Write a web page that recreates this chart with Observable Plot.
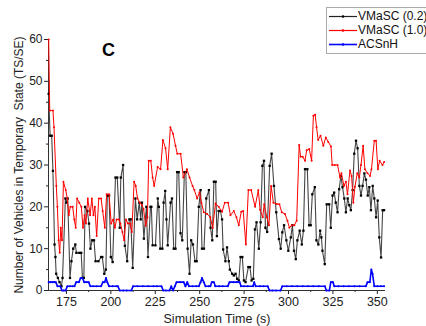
<!DOCTYPE html>
<html><head><meta charset="utf-8">
<script src="https://cdn.jsdelivr.net/npm/d3@7"></script>
<script src="https://cdn.jsdelivr.net/npm/@observablehq/plot@0.6"></script>
<style>
body{margin:0;background:#fff;font-family:"Liberation Sans",Arial,sans-serif;}
#wrap{position:relative;width:426px;height:326px;overflow:hidden;}
#legend{position:absolute;left:326px;top:7px;width:110px;height:45px;border:1px solid #aaa;background:#fff;font-size:12px;color:#111;}
.row{position:absolute;left:0;height:14px;line-height:14px;}
.sw{position:absolute;left:2px;top:0;}
.lab{position:absolute;left:31px;top:0;white-space:nowrap;}
#panel{position:absolute;left:102px;top:40px;font-weight:bold;font-size:18px;color:#000;}
</style></head><body>
<div id="wrap"></div>
<script>
const seriesNames = ["VMaSC (0.2)", "VMaSC (1.0)", "ACSnH"];
const seriesColors = ["#222222", "#ff0000", "#0000ff"];
const xTicks = [175, 200, 225, 250, 275, 300, 325, 350];
const xMinor = [187.5, 212.5, 237.5, 262.5, 287.5, 312.5, 337.5];
const yTicks = [0, 10, 20, 30, 40, 50, 60];
const yMinor = [5, 15, 25, 35, 45, 55];
const xDomain = [164.9, 354.6];
const yDomain = [0, 60];

const blackT = [165,165.8,166.7,167.4,168.3,168.8,169.2,170.2,171.1,172.2,172.8,174.4,175,175.7,177,177.8,178.8,180,180.6,182.3,183.3,184,184.8,185.5,186.8,187.7,188.5,189.5,190.5,191.4,193,194.5,195.2,196.3,197.2,198,199,200,201,202.6,203.6,205,205.6,206.9,207.9,209.2,210.4,211.2,212.3,213.8,214.8,216,216.8,217.5,218.6,220,220.9,222.3,222.8,223.5,225.1,226.4,227,227.8,229,229.7,230.6,231.3,232,233.6,234.4,235.4,236.4,237.3,238.2,239.2,240.2,241.4,242.2,243.2,244.3,245.2,246.2,247.4,248.3,249.5,250.5,251.3,252.4,253.7,255.2,256.1,257.1,258,259,259.7,260.7,261.7,262.6,263.2,264.5,265.4,266.4,267,268.3,269.2,270.2,271.1,272,273,274,274.9,275.8,277.4,278.3,279.2,280.2,281.1,282,283.3,284.3,285.3,286.2,287,288,289.4,290.5,291.8,293.1,294.6,295.6,296.5,297.5,298.8,299.9,301.3,302.2,303.1,304.1,305,306.3,307.5,308.4,309.3,310.6,311.6,312.5,313.4,314.8,315.7,316.8,317.8,318.5,319.1,320.4,321.5,322.9,323.8,324.8,325.7,326.6,327.6,328.5,329.5,330.4,331.4,332.3,333.3,334.2,335.1,336.1,337,338,338.9,339.9,340.8,341.7,342.7,343.6,344.6,345.5,346.4,347.4,348.3,349.3,350.2,351.1,352.1,353,353.8];
const blackV = [47,37,37,28.6,11,8,4,3,2,1,3,22,21,22,3,7,10,11,9,9,9,3,3,20,19,16,10,12,12,7,7,8,8,4,5,22.7,22.7,8,6.8,27,27,15,27,30,10.7,7,17,17,5.4,22,17,21,17,21,12.4,20,8,20,20,10.8,10.8,22,20,10,10,21,23.8,17,10.8,21,22,10,10,28.3,28.3,13.7,12,28.3,28.3,10,4,12,11,7,7,20,24,10,10,22,24,15,12,26,26,13,19,19,17,9.8,7,10.3,7,5,4,3.6,4,2.8,2.4,8,8,2.4,2,5.6,5.6,2.4,2.8,14.6,16.3,10,16.3,29.8,31,15,14,29.8,32.7,25,18.7,12.3,10,13.9,15.6,12,9.5,12.7,15.6,9.5,7.5,12,14.3,11,14.3,29,29,15.6,15.6,23,24.7,12,11,14.3,12.7,9.5,6.3,20.6,20.6,15,22.7,23.4,21,18.7,24.2,27.4,24.7,22,18.7,22,20.4,19.2,24,32.7,35.8,34,25,22.7,25,28,26.5,22.7,24.7,19.2,25,22,17.5,21.5,12.7,7.9,19.2,19.2];

const redT = [165,165.6,167.4,168,169.3,169.9,170.6,171.2,171.8,172.5,173.3,174.6,175.5,176.3,177.2,178.5,179.4,180.2,181,182.2,183.4,184.3,185.2,186,187,188.3,189.3,190.2,191,192,193.2,194.5,195.4,196.6,197.6,199,200.2,201.3,202.3,203.2,204.5,205.4,206.5,207.5,208.5,209.6,210.8,211.8,213.1,214,215,216.3,217.4,218.4,219.6,220.6,221.3,222.5,223.5,224.4,226.3,228,229.3,230.8,232,233.5,235,236.4,237.4,239.3,240.8,242.8,244.3,246,247,248.6,249.9,251,252.3,254.2,256,257.3,258.9,260.7,262.6,264.1,266,267.3,269.2,270.7,272,273.4,274.5,276,277.4,279,281.2,283,284,285.5,286.3,287.8,289,290.2,291.5,293.4,294.9,296.2,298,299.4,300.5,301.8,303.3,304.6,306,306.8,308,309.3,310.2,311.7,313,314,315,315.8,316.7,318,319.6,321,322.4,323.9,324.6,326,327.6,329,329.8,331.2,332.3,333.2,334.6,335.5,336.5,337.4,338.7,339.9,340.8,342,343,344.5,345.9,346.7,348.3,349.3,350.3,351.3,352.9,353.8];
const redV = [60,43,43,39,25,20,12,9,15,12,26,24,22,18,20,20,17,15,22,21,20,15,18,16,22,18,22,18,20,13,22,22,19,15,23,23,16,17,15,17,17,16,14,12,17,16,16,14,26,25,22,21,20.5,19.5,15.5,17.5,31,31,27,25,29.5,29,36,34,29,39,37.5,34.6,32.7,32.7,27,29,27,25,24,22,23.5,21,18.7,18.3,17.5,15,20.8,20,18.8,21,21,18,19,17.5,15.6,18.8,19,11,24,24,20,24,19.3,17.5,20.6,17.5,15.6,25,21,20.7,20.6,18.7,18.3,16.7,15,15.6,15.6,16.7,34.8,32,32,31,33.5,33.8,31,41.8,42,39,36,37,34.6,36.6,35.5,34.4,30,30,30,27,28,25,26,23,28.7,27.4,21,24.8,28,27,30,34.6,29,28,27.4,29,35.8,35.8,29,31,30,30.7];

const blueT = [165,166,167,168,169,170,171.5,172.5,173.5,174.5,175.5,177,178.5,179.5,180.5,182,183,184,185,186.3,187.5,188.5,190,192,194.5,195.5,196.5,197.3,198,199,201,203,204,205,207,209,211.5,212.5,215,218,221,224,226,228.5,229.5,231,233,234,235,236,237,239,241,242,243,244,246,248,249.5,250.5,251.3,252.3,253.3,255,256,256.8,258,258.8,261,263,265.8,266.8,269,271,272.5,273.3,275,277,280,280.7,281.5,284,286,288.3,289.3,291,293,295.5,296.5,299,302,305,308,311,314,317,320.5,321.3,323,323.8,325,325.8,328,331,334,337,340,343.5,344.5,345.8,346.6,347.3,348.3,350,352,353.8];
const blueV = [2,2,2,2,2,1,1,0,0,0,1,1,1,1,2,2,3,3,2,2,2,1,1,1,1,2,2,3,2,1,1,1,1,0,0,0,0,1,1,1,1,1,1,1,0,0,0,1,0,1,2,2,2,1,2,1,1,1,1,2,3,2,1,1,1,2,2,1,1,1,1,2,2,2,2,1,1,1,1,2,1,1,1,1,0,0,0,0,1,1,1,1,1,1,1,1,1,0,0,2,2,1,1,1,1,1,1,1,2,2,5,4,1,1,1,1];

const mk = (T, V, s) => T.map((t, i) => ({t, v: V[i], s}));
const black = mk(blackT, blackV, seriesNames[0]);
const red = mk(redT, redV, seriesNames[1]);
const blue = mk(blueT, blueV, seriesNames[2]);

const chart = Plot.plot({
  width: 426, height: 326,
  marginLeft: 48, marginRight: 41, marginTop: 39, marginBottom: 36,
  style: {fontFamily: "'Liberation Sans', Arial, sans-serif", fontSize: "12px", color: "#222", background: "#fff"},
  x: {domain: xDomain},
  y: {domain: yDomain},
  marks: [
    Plot.axisX({ticks: xTicks, tickSize: 4, tickPadding: 3, fontSize: 12.5, label: "Simulation Time (s)", labelAnchor: "center", labelArrow: "none", labelOffset: 32}),
    Plot.axisX({ticks: xMinor, tickSize: 2, tickFormat: () => "", label: null}),
    Plot.axisY({ticks: yTicks, tickSize: 4, tickPadding: 2, label: "Number of Vehicles in Temporary  State (TS/SE)", labelAnchor: "center", labelArrow: "none", labelOffset: 34, fontSize: 12}),
    Plot.axisY({ticks: yMinor, tickSize: 2, tickFormat: () => "", label: null}),
    Plot.ruleY([yDomain[0]], {stroke: "#333", strokeWidth: 1}),
    Plot.ruleX([xDomain[0]], {stroke: "#333", strokeWidth: 1}),
    Plot.line(black, {x: "t", y: "v", stroke: "#444", strokeWidth: 1.1}),
    Plot.dot(black, {x: "t", y: "v", symbol: "square", r: 1.3, fill: "#000", stroke: "none"}),
    Plot.line(red, {x: "t", y: "v", stroke: seriesColors[1], strokeWidth: 1}),
    Plot.dot(red, {x: "t", y: "v", r: 1, fill: seriesColors[1], stroke: "none"}),
    Plot.line(blue, {x: "t", y: "v", stroke: seriesColors[2], strokeWidth: 1.6}),
    Plot.dot(blue, {x: "t", y: "v", r: 1, fill: seriesColors[2], stroke: "none"})
  ]
});
const wrap = document.getElementById("wrap");
wrap.appendChild(chart);

const panel = document.createElement("div");
panel.id = "panel"; panel.textContent = "C";
wrap.appendChild(panel);

const NS = "http://www.w3.org/2000/svg";
const leg = document.createElement("div");
leg.id = "legend";
seriesNames.forEach((n, i) => {
  const r = document.createElement("div");
  r.className = "row"; r.style.top = (1 + i * 14) + "px";
  const svg = document.createElementNS(NS, "svg");
  svg.setAttribute("class", "sw"); svg.setAttribute("width", 28); svg.setAttribute("height", 14);
  const ln = document.createElementNS(NS, "line");
  ln.setAttribute("x1", 0); ln.setAttribute("x2", 28); ln.setAttribute("y1", 7.5); ln.setAttribute("y2", 7.5);
  ln.setAttribute("stroke", seriesColors[i]); ln.setAttribute("stroke-width", i === 2 ? 1.6 : 1.2);
  const c = document.createElementNS(NS, "circle");
  c.setAttribute("cx", 14); c.setAttribute("cy", 7.5); c.setAttribute("r", 1.3); c.setAttribute("fill", i === 0 ? "#000" : seriesColors[i]);
  svg.appendChild(ln); svg.appendChild(c);
  const lb = document.createElement("div");
  lb.className = "lab"; lb.textContent = n;
  r.appendChild(svg); r.appendChild(lb); leg.appendChild(r);
});
wrap.appendChild(leg);
</script>
</body></html>
